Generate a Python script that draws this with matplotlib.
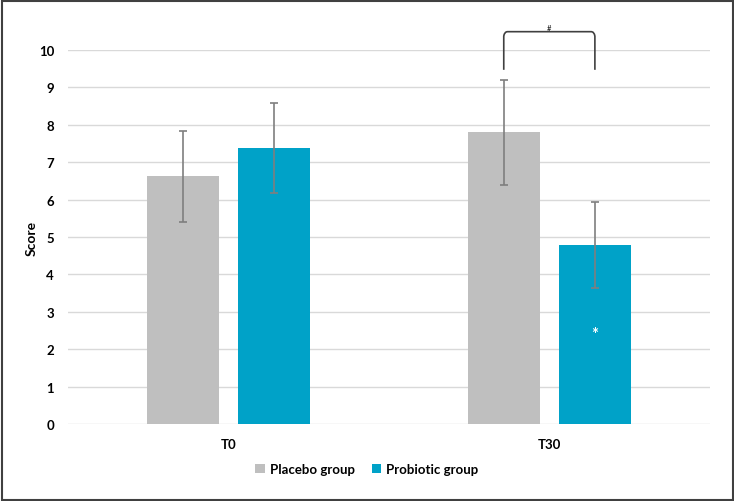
import matplotlib
matplotlib.use('Agg')
import matplotlib.pyplot as plt
from matplotlib.patches import Rectangle, PathPatch
from matplotlib.path import Path
import numpy as np

plt.rcParams['font.family'] = ['Lato', 'DejaVu Sans']

# data
timepoints = ['T0', 'T30']
groups = ['Placebo group', 'Probiotic group']
placebo_mean = [6.62, 7.80]
placebo_err = [1.22, 1.41]
probiotic_mean = [7.38, 4.79]
probiotic_err = [1.21, 1.15]
colors = ['#bfbfbf', '#00a2c8']

fig = plt.figure(figsize=(7.34, 5.02), dpi=100)
ax = fig.add_axes([0.0926, 0.1534, 0.8744, 0.745])

x = np.arange(len(timepoints))
offset = 0.142
width = 0.224

ax.bar(x - offset, placebo_mean, width, color=colors[0], label=groups[0], zorder=2)
ax.bar(x + offset, probiotic_mean, width, color=colors[1], label=groups[1], zorder=2)
ax.errorbar(x - offset, placebo_mean, yerr=placebo_err, fmt='none',
            ecolor='#7f7f7f', elinewidth=1.2, capsize=2.8, capthick=1.2, zorder=3)
ax.errorbar(x + offset, probiotic_mean, yerr=probiotic_err, fmt='none',
            ecolor='#7f7f7f', elinewidth=1.2, capsize=2.8, capthick=1.2, zorder=3)

ax.set_xlim(-0.5, 1.5)
ax.set_ylim(0, 10)
ax.set_yticks(range(0, 11))
ax.set_xticks(x)
ax.set_xticklabels(timepoints)
ax.grid(axis='y', color='#d9d9d9', linewidth=1.0, zorder=0)
ax.set_axisbelow(True)
for s in ax.spines.values():
    s.set_visible(False)
ax.tick_params(axis='both', length=0, labelsize=9.5, colors='#000000')
ax.tick_params(axis='y', pad=10)
ax.tick_params(axis='x', pad=10)
for lbl in ax.get_xticklabels() + ax.get_yticklabels():
    lbl.set_fontweight('bold')
ax.set_ylabel('Score', fontsize=10, fontweight='bold', labelpad=1)

# significance bracket between T30 bars
x1, x2 = 1 - offset, 1 + offset
yb, yt = 9.47, 10.49
verts = [(x1, yb), (x1, yt - 0.12), (x1 + 0.002, yt), (x1 + 0.012, yt),
         (x2 - 0.012, yt), (x2 - 0.002, yt), (x2, yt - 0.12), (x2, yb)]
codes = [Path.MOVETO, Path.LINETO, Path.CURVE3, Path.CURVE3,
         Path.LINETO, Path.CURVE3, Path.CURVE3, Path.LINETO]
ax.add_patch(PathPatch(Path(verts, codes), fill=False, edgecolor='#404040',
                       linewidth=1.2, clip_on=False))
ax.text(1.0, 10.6, '#', ha='center', va='center', fontsize=5.5, clip_on=False)
ax.text(1 + offset, 2.4, '*', ha='center', va='center', fontsize=12,
        color='white', fontweight='bold')

leg = fig.legend(loc='center', bbox_to_anchor=(0.5, 0.064), ncol=2, frameon=False,
                 handlelength=0.7, handleheight=0.7, handletextpad=0.4,
                 columnspacing=1.3, prop={'weight': 'bold', 'size': 9.5})

fig.patches.append(Rectangle((0.003, 0.002), 0.995, 0.995, transform=fig.transFigure,
                             fill=False, edgecolor='#404040', linewidth=1.5))

plt.savefig('out.png', dpi=100)
plt.close()
